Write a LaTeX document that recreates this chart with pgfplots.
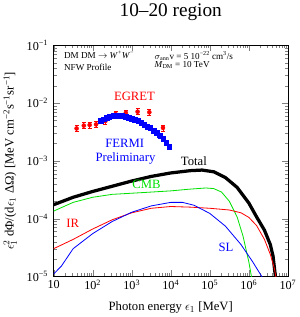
\documentclass[border=0pt]{standalone}
\usepackage{pgfplots}
\pgfplotsset{compat=1.18}
\usepackage{fontspec}
\setmainfont{Liberation Serif}
\definecolor{cmbgreen}{RGB}{0,225,0}
\begin{document}
\begin{tikzpicture}
\begin{axis}[
  scale only axis, width=231pt, height=228pt,
  xmode=log, ymode=log,
  xmin=10, xmax=1e7, ymin=1e-5, ymax=1e-1,
  tick align=inside, major tick length=6pt, minor tick length=3pt,
  xtick={10,100,1000,1e4,1e5,1e6,1e7},
  xticklabels={10,10\textsuperscript{2},10\textsuperscript{3},10\textsuperscript{4},10\textsuperscript{5},10\textsuperscript{6},10\textsuperscript{7}},
  ytick={1e-5,1e-4,1e-3,1e-2,1e-1},
  yticklabels={10\textsuperscript{−5},10\textsuperscript{−4},10\textsuperscript{−3},10\textsuperscript{−2},10\textsuperscript{−1}},
  tick label style={font=\fontsize{12}{14}\selectfont},
  yticklabel style={xshift=-2pt},
  xlabel={Photon energy $\epsilon_1$ [MeV]},
  ylabel={$\epsilon_1^2$ dΦ/(d$\epsilon_1$ ΔΩ) [MeV cm\textsuperscript{−2}s\textsuperscript{−1}sr\textsuperscript{−1}]},
  label style={font=\fontsize{12.5}{14}\selectfont},
  xlabel style={at={(axis description cs:0.5,-0.136)}, anchor=center},
  ylabel style={at={(axis description cs:-0.186,0.5)}, anchor=center},
  title={10–20 region},
  title style={font=\fontsize{19}{22}\selectfont, at={(axis description cs:0.5,1.118)}, anchor=center},
  clip=true,
]
% Total
\addplot[black, line width=3.2pt] coordinates {
(10,1.74e-4) (31.6,2.34e-4) (100,2.95e-4) (316,3.63e-4) (1000,4.47e-4) (3162,5.37e-4)
(1e4,6.17e-4) (3.16e4,6.76e-4) (6.31e4,6.92e-4) (1.26e5,6.46e-4) (2.51e5,5.13e-4)
(5.01e5,3.47e-4) (1e6,1.86e-4) (1.58e6,1.07e-4) (2.51e6,6.31e-5) (3.55e6,3.55e-5)
(4.17e6,2.24e-5) (4.79e6,1.0e-5) (5.25e6,5.0e-6)};
% CMB
\addplot[cmbgreen, line width=0.8pt] coordinates {
(10,1.35e-4) (31.6,1.91e-4) (100,2.34e-4) (316,2.63e-4) (1000,2.75e-4) (3162,2.88e-4)
(1e4,3.02e-4) (3.16e4,3.24e-4) (7.94e4,3.39e-4) (1.26e5,3.31e-4) (2.0e5,2.88e-4)
(3.16e5,2.0e-4) (5.01e5,1.07e-4) (7.08e5,5.01e-5) (1e6,1.78e-5) (1.2e6,8.9e-6)};
% IR
\addplot[red, line width=0.8pt] coordinates {
(10,3.02e-5) (31.6,4.37e-5) (100,6.61e-5) (316,9.55e-5) (1000,1.26e-4) (3162,1.51e-4)
(1e4,1.62e-4) (3.16e4,1.58e-4) (1e5,1.51e-4) (3.16e5,1.41e-4) (6.31e5,1.26e-4)
(1e6,1.05e-4) (1.58e6,7.59e-5) (2.51e6,4.37e-5) (3.55e6,2.40e-5) (4.47e6,1.41e-5) (5.25e6,7.9e-6)};
% SL
\addplot[blue, line width=0.8pt] coordinates {
(10,1.1e-5) (15.8,1.51e-5) (31.6,3.02e-5) (100,5.50e-5) (316,8.91e-5) (1000,1.29e-4)
(3162,1.66e-4) (1e4,1.91e-4) (2.0e4,1.91e-4) (3.98e4,1.70e-4) (1e5,1.23e-4)
(2.51e5,7.41e-5) (6.31e5,3.55e-5) (1.26e6,1.78e-5) (2.24e6,9.5e-6)};
% EGRET
\addplot[red, only marks, mark=*, mark size=2pt,
  error bars/.cd, y dir=both, y explicit relative, error bar style={line width=0.8pt}, error mark options={rotate=90, mark size=2pt, line width=0.8pt}]
  table[x=x, y=y, y error=e] {
x y e
38.7 3.63e-3 0.12
59.2 4.07e-3 0.12
83.7 4.17e-3 0.12
122 4.27e-3 0.12
212 4.90e-3 0.12
387 6.46e-3 0.12
707 6.76e-3 0.12
1414 7.08e-3 0.12
2828 6.92e-3 0.12
6325 3.72e-3 0.12
};
% FERMI
\addplot[blue, only marks, mark=square*, mark size=2.2pt,
  error bars/.cd, y dir=both, y explicit relative, error bar style={line width=0.8pt}]
  table[x=x, y=y, y error=e] {
x y e
158.5 4.90e-3 0.1
190.5 5.25e-3 0.1
229.1 5.62e-3 0.1
275.4 5.89e-3 0.1
331.1 6.03e-3 0.1
398.1 6.17e-3 0.1
478.6 6.17e-3 0.1
575.4 6.03e-3 0.1
691.8 5.89e-3 0.1
831.8 5.62e-3 0.1
1000 5.37e-3 0.1
1202 5.13e-3 0.1
1445 4.90e-3 0.1
1738 4.57e-3 0.1
2089 4.27e-3 0.1
2512 3.98e-3 0.1
3020 3.72e-3 0.1
3631 3.39e-3 0.1
4365 3.09e-3 0.1
5248 2.75e-3 0.1
6310 2.40e-3 0.1
7586 2.09e-3 0.1
9120 1.74e-3 0.1
};
\node[red, font=\fontsize{12.5}{14}\selectfont] at (axis cs:1175,1.32e-2) {EGRET};
\node[blue, font=\fontsize{12.5}{14}\selectfont] at (axis cs:661,2.0e-3) {FERMI};
\node[blue, font=\fontsize{12.5}{14}\selectfont] at (axis cs:692,1.1e-3) {Preliminary};
\node[black, font=\fontsize{12.5}{14}\selectfont] at (axis cs:3.9e4,1.0e-3) {Total};
\node[cmbgreen, font=\fontsize{12.5}{14}\selectfont] at (axis cs:2400,3.9e-4) {CMB};
\node[red, font=\fontsize{12.5}{14}\selectfont] at (axis cs:30.7,8.3e-5) {IR};
\node[blue, font=\fontsize{12.5}{14}\selectfont] at (axis cs:2.6e5,3.2e-5) {SL};
\node[anchor=west, inner sep=0pt, font=\fontsize{9}{10}\selectfont] at (axis cs:18.3,6.8e-2) {DM DM $\rightarrow$ \textit{W}\textsuperscript{+}\textit{W}\textsuperscript{−}};
\node[anchor=west, inner sep=0pt, font=\fontsize{9}{10}\selectfont] at (axis cs:18.3,4.2e-2) {NFW Profile};
\node[anchor=west, inner sep=0pt, font=\fontsize{9}{10}\selectfont] at (axis cs:3800,6.5e-2) {$\sigma$\textsubscript{ann}v = 5 10\textsuperscript{−22} cm\textsuperscript{3}/s};
\node[anchor=west, inner sep=0pt, font=\fontsize{9}{10}\selectfont] at (axis cs:3800,4.5e-2) {\textit{M}\textsubscript{DM} = 10 TeV};
\end{axis}
\end{tikzpicture}
\end{document}
